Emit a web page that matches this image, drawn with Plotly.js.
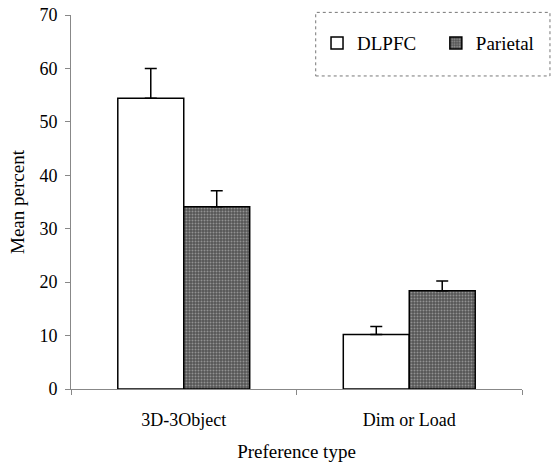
<!DOCTYPE html>
<html>
<head>
<meta charset="utf-8">
<script src="https://cdn.plot.ly/plotly-3.0.1.min.js"></script>
<style>html,body{margin:0;padding:0;background:#fff;}#chart{width:553px;height:467px;}</style>
</head>
<body>
<div id="chart"></div>
<script>
const categories = ["3D-3Object", "Dim or Load"];
const seriesNames = ["DLPFC", "Parietal"];
const dlpfcMeans = [54.4, 10.2];
const dlpfcErr = [5.6, 1.5];
const parietalMeans = [34.1, 18.4];
const parietalErr = [3.0, 1.8];
const yTicks = [0, 10, 20, 30, 40, 50, 60, 70];

const serif = "Liberation Serif, Times New Roman, Times, DejaVu Serif, serif";

const traces = [
  {
    type: "bar", name: seriesNames[0], x: categories, y: dlpfcMeans, legend: "legend",
    marker: {color: "#ffffff", line: {color: "#000", width: 1.5}},
    error_y: {type: "data", symmetric: false, array: dlpfcErr, arrayminus: [0, 0], color: "#000", thickness: 1.5, width: 6}
  },
  {
    type: "bar", name: seriesNames[1], x: categories, y: parietalMeans, legend: "legend2",
    marker: {color: "#5e5e5e", line: {color: "#000", width: 1.5},
      pattern: {shape: ".", bgcolor: "#555555", fgcolor: "#929292", size: 3, solidity: 0.35, fillmode: "replace"}},
    error_y: {type: "data", symmetric: false, array: parietalErr, arrayminus: [0, 0], color: "#000", thickness: 1.5, width: 6}
  }
];

const legendStyle = {orientation: "h", y: 0.925, yanchor: "middle", xanchor: "left",
  font: {family: serif, size: 19, color: "#000"}, bgcolor: "rgba(0,0,0,0)", borderwidth: 0};

const layout = {
  width: 553, height: 467,
  margin: {l: 71, r: 31, t: 15, b: 78},
  paper_bgcolor: "#fff", plot_bgcolor: "#fff",
  font: {family: serif, size: 18, color: "#000"},
  barmode: "group", bargap: 0.415, bargroupgap: 0,
  showlegend: true,
  legend: Object.assign({x: 0.5455}, legendStyle),
  legend2: Object.assign({x: 0.809}, legendStyle),
  xaxis: {
    type: "category", showline: true, linecolor: "#888", linewidth: 1,
    ticks: "outside", tickson: "boundaries", ticklen: 5, tickcolor: "#888",
    ticklabelstandoff: 14, tickfont: {family: serif, size: 18, color: "#000"},
    showgrid: false, zeroline: false,
    title: {text: "Preference type", font: {family: serif, size: 19, color: "#000"}, standoff: 16}
  },
  yaxis: {
    range: [0, 70], tickvals: yTicks, ticktext: yTicks.map(String),
    showline: true, linecolor: "#888", linewidth: 1,
    ticks: "outside", ticklen: 5, tickcolor: "#888", ticklabelstandoff: 4,
    tickfont: {family: serif, size: 18, color: "#000"},
    showgrid: false, zeroline: false,
    title: {text: "Mean percent", font: {family: serif, size: 19, color: "#000"}, standoff: 9}
  },
  shapes: [
    {type: "rect", xref: "paper", yref: "paper", x0: 0.5426, x1: 1.062, y0: 0.837, y1: 1.007,
     line: {color: "#777", width: 1, dash: "dot"}, fillcolor: "rgba(0,0,0,0)"}
  ]
};

Plotly.newPlot("chart", traces, layout, {displayModeBar: false, staticPlot: true});
</script>
</body>
</html>
